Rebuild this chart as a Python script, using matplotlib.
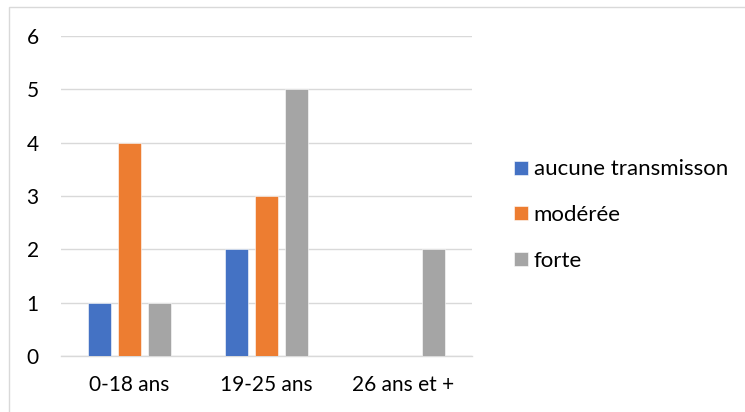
import numpy as np
import matplotlib
matplotlib.use('Agg')
import matplotlib.pyplot as plt
from matplotlib.patches import Rectangle

plt.rcParams['font.family'] = ['Lato', 'DejaVu Sans']

# Age groups and counts per transmission level
categories = ['0-18 ans', '19-25 ans', '26 ans et +']
series_names = ['aucune transmisson', 'modérée', 'forte']
aucune = [1, 2, 0]
moderee = [4, 3, 0]
forte = [1, 5, 2]
yticks = [0, 1, 2, 3, 4, 5, 6]

colors = ['#4472C4', '#ED7D31', '#A5A5A5']
grid_col = '#D9D9D9'

fig = plt.figure(figsize=(7.45, 4.12), dpi=100)
ax = fig.add_axes([61 / 745, 56 / 412, 411 / 745, 320 / 412])

x = np.arange(len(categories))
width = 0.172
step = 0.219
for i, (vals, name) in enumerate(zip([aucune, moderee, forte], series_names)):
    ax.bar(x + (i - 1) * step, vals, width, color=colors[i], label=name,
           edgecolor='white', linewidth=0.4, zorder=3)

ax.set_xlim(-0.5, len(categories) - 0.5)
ax.set_ylim(0, 6)
ax.set_yticks(yticks)
ax.set_xticks(x)
ax.set_xticklabels(categories)
ax.grid(axis='y', color=grid_col, linewidth=1.0, zorder=0)
for side in ['top', 'right', 'left']:
    ax.spines[side].set_visible(False)
ax.spines['bottom'].set_color(grid_col)
ax.spines['bottom'].set_linewidth(1.0)
ax.tick_params(axis='both', length=0, labelsize=15, colors='black')
ax.tick_params(axis='y', pad=16)
ax.tick_params(axis='x', pad=14)

fig.legend(loc='center left', bbox_to_anchor=(514 / 745, (412 - 215) / 412),
           frameon=False, fontsize=16, borderpad=0, borderaxespad=0,
           handlelength=0.63, handleheight=0.58, handletextpad=0.25,
           labelspacing=1.15)

# light outline of the chart area
fig.patches.append(Rectangle((9 / 745, -0.1), 1.2, (412 - 7) / 412 + 0.1,
                             transform=fig.transFigure, fill=False,
                             edgecolor=grid_col, linewidth=1.0))

fig.savefig('out.png', dpi=100)
